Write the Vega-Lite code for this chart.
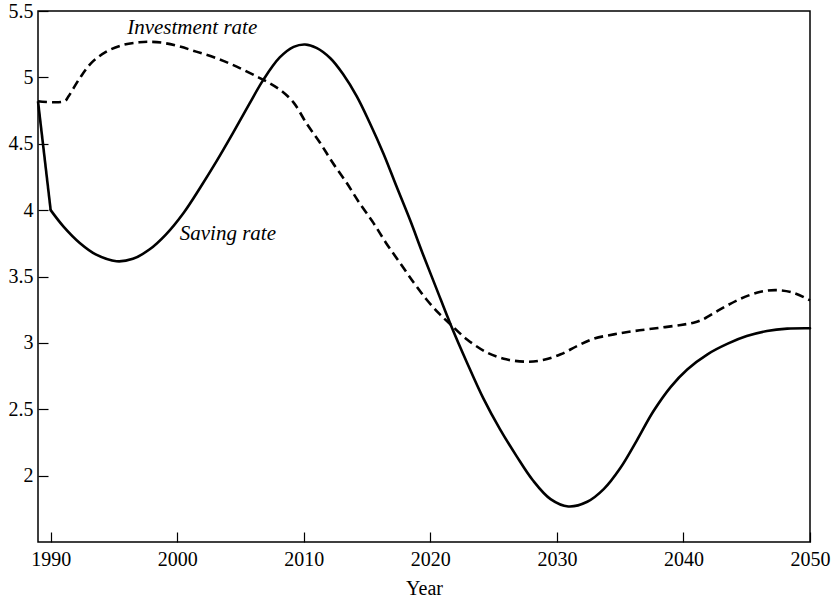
{
  "$schema": "https://vega.github.io/schema/vega-lite/v6.json",
  "autosize": {"type": "none"},
  "padding": {"left": 38, "top": 11, "right": 26, "bottom": 59},
  "width": 772,
  "height": 531,
  "background": "white",
  "config": {
    "view": {"stroke": "black", "strokeWidth": 1.5},
    "font": "Liberation Serif",
    "axis": {
      "domain": false,
      "grid": false,
      "tickColor": "black",
      "tickWidth": 1.2,
      "tickSize": -10,
      "labelColor": "black",
      "labelFont": "Liberation Serif",
      "labelFontSize": 20,
      "titleFont": "Liberation Serif",
      "titleFontSize": 20,
      "titleFontWeight": "normal",
      "titleColor": "black"
    }
  },
  "datasets": {
    "investment": [
      {"year": 1989, "value": 4.82},
      {"year": 1991.1, "value": 4.82},
      {"year": 1991.4, "value": 4.856},
      {"year": 1992.3, "value": 4.994},
      {"year": 1993.2, "value": 5.107},
      {"year": 1994.4, "value": 5.194},
      {"year": 1995.7, "value": 5.244},
      {"year": 1997.0, "value": 5.264},
      {"year": 1997.8, "value": 5.268},
      {"year": 1998.9, "value": 5.26},
      {"year": 2000.2, "value": 5.232},
      {"year": 2001.5, "value": 5.194},
      {"year": 2003.1, "value": 5.144},
      {"year": 2004.7, "value": 5.081},
      {"year": 2006.3, "value": 5.006},
      {"year": 2007.3, "value": 4.956},
      {"year": 2008.3, "value": 4.894},
      {"year": 2009.2, "value": 4.81},
      {"year": 2010.2, "value": 4.656},
      {"year": 2011.3, "value": 4.505},
      {"year": 2012.3, "value": 4.355},
      {"year": 2013.4, "value": 4.204},
      {"year": 2014.4, "value": 4.054},
      {"year": 2015.5, "value": 3.904},
      {"year": 2016.5, "value": 3.753},
      {"year": 2017.6, "value": 3.603},
      {"year": 2018.7, "value": 3.453},
      {"year": 2019.7, "value": 3.327},
      {"year": 2020.7, "value": 3.22},
      {"year": 2021.6, "value": 3.139},
      {"year": 2022.9, "value": 3.026},
      {"year": 2024.5, "value": 2.926},
      {"year": 2026.0, "value": 2.876},
      {"year": 2027.6, "value": 2.858},
      {"year": 2028.9, "value": 2.871},
      {"year": 2030.3, "value": 2.914},
      {"year": 2031.6, "value": 2.976},
      {"year": 2032.9, "value": 3.031},
      {"year": 2034.5, "value": 3.064},
      {"year": 2036.1, "value": 3.089},
      {"year": 2038.0, "value": 3.112},
      {"year": 2039.8, "value": 3.135},
      {"year": 2040.8, "value": 3.152},
      {"year": 2041.5, "value": 3.175},
      {"year": 2042.9, "value": 3.252},
      {"year": 2044.5, "value": 3.332},
      {"year": 2046.1, "value": 3.385},
      {"year": 2047.4, "value": 3.397},
      {"year": 2048.7, "value": 3.377},
      {"year": 2050.0, "value": 3.32}
    ],
    "saving": [
      {"year": 1989, "value": 4.82},
      {"year": 1990.0, "value": 4.0},
      {"year": 1991.0, "value": 3.878},
      {"year": 1992.3, "value": 3.753},
      {"year": 1993.6, "value": 3.665},
      {"year": 1995.2, "value": 3.615},
      {"year": 1996.5, "value": 3.633},
      {"year": 1997.8, "value": 3.703},
      {"year": 1999.1, "value": 3.816},
      {"year": 2000.5, "value": 3.979},
      {"year": 2001.8, "value": 4.167},
      {"year": 2003.1, "value": 4.367},
      {"year": 2004.4, "value": 4.58},
      {"year": 2005.7, "value": 4.8},
      {"year": 2006.8, "value": 4.981},
      {"year": 2008.1, "value": 5.15},
      {"year": 2009.2, "value": 5.23},
      {"year": 2010.1, "value": 5.248},
      {"year": 2011.0, "value": 5.222},
      {"year": 2012.1, "value": 5.144},
      {"year": 2013.1, "value": 5.025},
      {"year": 2014.2, "value": 4.855},
      {"year": 2015.2, "value": 4.66},
      {"year": 2016.3, "value": 4.425},
      {"year": 2017.3, "value": 4.185},
      {"year": 2018.4, "value": 3.925},
      {"year": 2019.4, "value": 3.672},
      {"year": 2020.5, "value": 3.405},
      {"year": 2021.6, "value": 3.139},
      {"year": 2022.9, "value": 2.851},
      {"year": 2024.2, "value": 2.58},
      {"year": 2025.5, "value": 2.35},
      {"year": 2026.8, "value": 2.149},
      {"year": 2028.1, "value": 1.965},
      {"year": 2029.5, "value": 1.823},
      {"year": 2030.9, "value": 1.768},
      {"year": 2032.4, "value": 1.803},
      {"year": 2033.7, "value": 1.898},
      {"year": 2035.0, "value": 2.055},
      {"year": 2036.3, "value": 2.262},
      {"year": 2037.6, "value": 2.481},
      {"year": 2039.0, "value": 2.669},
      {"year": 2040.3, "value": 2.8},
      {"year": 2041.9, "value": 2.914},
      {"year": 2043.5, "value": 2.994},
      {"year": 2045.0, "value": 3.051},
      {"year": 2046.6, "value": 3.089},
      {"year": 2048.2, "value": 3.107},
      {"year": 2050.0, "value": 3.11}
    ],
    "labels": [
      {"year": 1996.05, "value": 5.325, "text": "Investment rate"},
      {"year": 2000.2, "value": 3.778, "text": "Saving rate"}
    ]
  },
  "encoding": {
    "x": {
      "field": "year",
      "type": "quantitative",
      "scale": {"domain": [1989, 2050], "nice": false, "zero": false},
      "axis": {"title": "Year", "values": [1990, 2000, 2010, 2020, 2030, 2040, 2050], "format": "d", "labelPadding": 17, "titlePadding": 9, "labelFlush": false}
    },
    "y": {
      "field": "value",
      "type": "quantitative",
      "scale": {"domain": [1.5, 5.5], "nice": false, "zero": false},
      "axis": {"title": null, "values": [2, 2.5, 3, 3.5, 4, 4.5, 5, 5.5], "format": "~g", "labelPadding": 15}
    }
  },
  "layer": [
    {
      "data": {"name": "investment"},
      "mark": {"type": "line", "interpolate": "catmull-rom", "color": "black", "strokeWidth": 2.6, "strokeDash": [9, 5]}
    },
    {
      "data": {"name": "saving"},
      "transform": [{"filter": "datum.year <= 1990"}],
      "mark": {"type": "line", "interpolate": "linear", "color": "black", "strokeWidth": 2.6, "strokeJoin": "round"}
    },
    {
      "data": {"name": "saving"},
      "transform": [{"filter": "datum.year >= 1990"}],
      "mark": {"type": "line", "interpolate": "catmull-rom", "color": "black", "strokeWidth": 2.6, "strokeCap": "round"}
    },
    {
      "data": {"name": "labels"},
      "mark": {"type": "text", "align": "left", "baseline": "alphabetic", "font": "Liberation Serif", "fontStyle": "italic", "fontSize": 21, "color": "black"},
      "encoding": {"text": {"field": "text", "type": "nominal"}}
    }
  ]
}
